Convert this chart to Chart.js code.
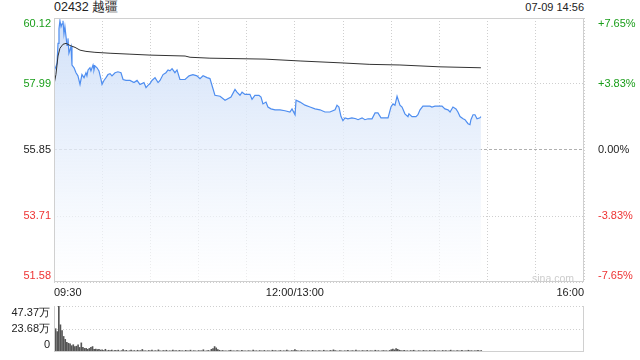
<!DOCTYPE html>
<html lang="zh">
<head>
    <meta charset="UTF-8">
    <title>02432 越疆 分时</title>
    <script src="https://cdn.jsdelivr.net/npm/chart.js"></script>
    <style>
        body {
            margin: 0;
            width: 640px;
            height: 360px;
            background: #fff;
            font-family: Arial, "Liberation Sans", sans-serif;
            position: relative;
            overflow: hidden;
        }
        #priceBox { position: absolute; left: 0; top: 0; }
        #volBox { position: absolute; left: 0; top: 288px; }
        .title { position: absolute; left: 54px; top: 0; font-size: 12.5px; line-height: 15px; color: #222; }
        .stamp { position: absolute; right: 56px; top: 0; font-size: 11px; line-height: 15px; color: #222; }
        .mark { position: absolute; left: 532px; top: 272px; font-size: 10.5px; color: #ccc; }
    </style>
</head>
<body>
    <div class="title">02432 越疆</div>
    <div class="stamp">07-09 14:56</div>
    <canvas id="priceBox" width="640" height="300"></canvas>
    <canvas id="volBox" width="640" height="82"></canvas>
    <div class="mark">sina.com</div>

    <script>
        // minutes since 09:30 (lunch 12:00-13:00 removed, 330 min in a day)
        const minutes = [0, 1.2, 1.9, 2.5, 3.1, 3.7, 4.4, 5.0, 5.6, 6.2, 6.8, 8.1, 8.7, 9.3, 10.6, 11.2, 12.5, 13.7, 14.9, 16.2,
            17.4, 18.7, 19.9, 20.5, 21.2, 22.4, 23.0, 24.3, 24.9, 25.5, 26.8, 28.0, 29.3, 29.9, 31.1, 32.4, 33.6, 34.9, 36.1, 38.0,
            39.8, 41.7, 43.0, 44.8, 47.3, 49.8, 51.7, 53.5, 56.0, 57.3, 58.5, 59.8, 61.0, 62.9, 64.8, 66.0, 67.9, 69.7, 71.0, 72.2,
            73.5, 75.3, 76.6, 78.4, 81.6, 84.1, 86.5, 89.0, 90.9, 92.8, 95.3, 97.1, 100.2, 103.4, 106.5, 110.2, 112.7, 113.9, 115.8, 117.1,
            118.9, 122.0, 123.3, 125.1, 127.6, 128.9, 130.1, 132.0, 133.2, 135.1, 137.6, 140.7, 143.8, 146.9, 148.2, 150.1, 150.7, 153.2, 156.3, 159.4,
            162.5, 165.6, 168.7, 171.8, 175.0, 176.2, 177.4, 178.7, 179.9, 181.2, 183.0, 185.5, 188.0, 189.3, 191.8, 193.6, 195.5, 198.0, 199.9, 201.7,
            203.6, 208.0, 209.8, 211.1, 212.3, 213.6, 215.4, 216.7, 218.5, 220.4, 221.0, 222.9, 225.4, 226.6, 227.9, 229.7, 234.1, 235.3, 237.2, 241.6,
            243.4, 245.3, 246.6, 248.4, 250.3, 251.5, 252.8, 254.7, 255.9, 257.8, 259.0, 259.6, 260.9, 262.1, 263.4, 265.2, 265.8];
        const prices = [58.41, 58.54, 58.67, 59.30, 59.77, 60.03, 59.84, 59.93, 60.03, 59.61, 59.84, 59.23, 59.46, 58.98, 59.20, 58.60, 58.51, 58.35, 58.25, 57.97,
            58.29, 58.19, 58.35, 58.25, 58.44, 58.51, 58.41, 58.60, 58.44, 58.57, 58.51, 58.41, 58.13, 57.97, 58.10, 58.19, 58.29, 58.32, 58.25, 58.35,
            58.38, 58.35, 58.13, 58.10, 58.10, 58.03, 58.10, 57.97, 58.03, 57.87, 57.94, 58.00, 58.10, 58.19, 58.03, 58.10, 58.29, 58.35, 58.44, 58.41,
            58.48, 58.35, 58.44, 58.13, 58.13, 58.25, 58.29, 58.25, 58.16, 58.25, 58.19, 58.16, 57.62, 57.59, 57.46, 57.56, 57.81, 57.72, 57.62, 57.72,
            57.65, 57.65, 57.49, 57.62, 57.62, 57.56, 57.34, 57.40, 57.24, 57.18, 57.15, 57.15, 57.12, 57.08, 57.18, 56.99, 57.46, 57.40, 57.30, 57.24,
            57.18, 57.15, 57.08, 57.08, 57.15, 57.30, 57.24, 56.93, 56.80, 56.89, 56.86, 56.89, 56.86, 56.83, 56.89, 56.83, 56.86, 56.86, 57.05, 57.05,
            56.89, 56.89, 57.24, 57.34, 57.30, 57.59, 57.30, 57.24, 57.02, 56.93, 57.02, 56.93, 56.93, 56.99, 57.15, 57.27, 57.27, 57.24, 57.27, 57.27,
            57.18, 57.15, 57.08, 57.24, 57.18, 57.08, 56.93, 56.86, 56.83, 56.70, 56.67, 56.83, 56.99, 56.99, 56.86, 56.89, 56.93];

        const avgMinutes = [0, 1.2, 2.5, 3.7, 5.6, 7.5, 10.0, 13.1, 16.2, 19.9, 25.5, 34.9, 47.3, 59.8, 81.6, 84.7, 97.1, 131.4, 153.2, 178.1, 196.7, 215.4, 240.3, 265.8];
        const avgPrices = [57.97, 58.29, 58.89, 59.14, 59.27, 59.30, 59.23, 59.17, 59.08, 59.04, 59.01, 58.98, 58.95, 58.92, 58.89, 58.85, 58.82, 58.79, 58.73, 58.67, 58.62, 58.60, 58.54, 58.51];

        // volume per minute, unit 万
        const volumes = [16, 24, 21, 47.37, 28, 22, 16, 13, 10, 9, 8.5, 6.5, 7.5, 5.6, 6, 7.5, 4.7, 9.4, 4.7, 3.7,
            3.7, 2.8, 3.7, 4.7, 5.6, 2.8, 3, 2.5, 2.8, 2,
            2.2, 1.5, 2.8, 1.2, 1.8, 1.4, 2.0, 1.1, 1.6, 1.3,
            1.9, 1.0, 1.4, 2.4, 1.2, 1.7, 1.0, 1.3, 2.1, 1.1,
            1.5, 1.0, 1.8, 1.2, 1.4, 2.6, 1.1, 1.3, 1.0, 1.6,
            1.2, 1.9, 1.0, 1.4, 1.1, 2.2, 1.3, 1.0, 1.5, 1.2,
            1.8, 1.0, 1.3, 1.1, 2.0, 1.2, 1.4, 1.0, 1.6, 1.1,
            1.3, 1.0, 1.7, 1.2, 1.1, 1.9, 1.0, 1.4, 1.2, 1.0,
            1.5, 1.1, 1.3, 2.3, 1.0, 1.2, 1.6, 1.1, 2.8, 3.4,
            5.6, 4.2, 2.5, 1.8, 1.3, 1.6, 1.1, 1.2, 1.0, 1.4,
            1.8, 1.1, 1.3, 1.0, 1.5, 1.2, 1.0, 1.7, 1.1, 1.3,
            1.0, 1.4, 1.2, 1.0, 1.9, 1.1, 1.3, 1.0, 1.5, 1.2,
            1.1, 1.6, 1.0, 1.3, 1.2, 1.0, 1.8, 1.1, 1.4, 1.0,
            1.2, 1.6, 1.0, 1.3, 1.1, 2.0, 1.2, 1.0, 1.5, 1.3,
            2.4, 1.5, 1.2, 1.0, 1.6, 1.1, 1.3, 1.0, 1.4, 1.2,
            1.0, 1.7, 1.1, 1.3, 1.0, 1.5, 1.2, 1.0, 1.8, 1.1,
            1.3, 1.0, 1.6, 1.2, 2.2, 1.4, 1.1, 1.0, 1.5, 1.2,
            1.0, 1.3, 1.1, 1.7, 1.0, 1.2, 1.4, 1.0, 1.9, 1.1,
            1.3, 1.0, 1.5, 1.2, 1.1, 1.6, 1.0, 1.3, 1.2, 1.0,
            1.8, 1.1, 1.4, 1.0, 1.2, 1.5, 1.1, 1.3, 1.0, 1.6,
            2.4, 3.1, 2.2, 3.6, 2.8, 1.9, 1.4, 1.2, 1.6, 1.1,
            1.3, 1.0, 1.5, 1.2, 1.8, 1.1, 1.0, 1.4, 1.2, 1.0,
            1.6, 1.1, 1.3, 1.0, 1.5, 1.2, 1.1, 1.7, 1.0, 1.3,
            1.2, 1.0, 1.6, 1.1, 1.4, 1.0, 1.3, 1.9, 1.1, 1.2,
            1.0, 1.5, 1.2, 1.1, 1.6, 1.0, 1.3, 1.2, 1.8, 1.1,
            1.4, 1.0, 1.3, 1.2, 1.6, 1.1, 1.5];

        const prevClose = 55.85;
        const priceTicks = [51.58, 53.71, 55.85, 57.99, 60.12];
        const pctTicks = [-7.65, -3.83, 0, 3.83, 7.65];
        const timeTicks = [0, 30, 60, 90, 120, 150, 180, 210, 240, 270, 300, 330];
        const timeLabels = { 0: '09:30', 150: '12:00/13:00', 330: '16:00' };
        const volTicks = [0, 23.68, 47.37];

        const UP = '#1a9e1a', DOWN = '#ee3333', FLAT = '#222';
        const tickFont = { family: 'Arial, "Liberation Sans", sans-serif', size: 11 };

        // push first label down and last label up so they stay inside the frame
        function edgeLabel(text, i, n) {
            if (i === n - 1) return ['', text];
            if (i === 0) return [text, ''];
            return text;
        }
        // line height of the edge labels sets how far they are pushed
        function edgeFont(n, lh) {
            return (c) => ({ ...tickFont, lineHeight: (c.index === 0 || c.index === n - 1) ? lh : 1.2 });
        }

        const frame = {
            id: 'frame',
            afterDatasetsDraw(chart, args, opts) {
                const { ctx, chartArea: a } = chart;
                ctx.save();
                ctx.strokeStyle = '#d0d0d0';
                ctx.lineWidth = 1;
                ctx.beginPath();
                if (opts.top) { ctx.moveTo(a.left, a.top + 0.5); ctx.lineTo(a.right, a.top + 0.5); }
                ctx.moveTo(a.left + 0.5, a.top); ctx.lineTo(a.left + 0.5, a.bottom);
                ctx.moveTo(a.right - 0.5, a.top); ctx.lineTo(a.right - 0.5, a.bottom);
                ctx.moveTo(a.left, a.bottom - 0.5); ctx.lineTo(a.right, a.bottom - 0.5);
                ctx.stroke();
                ctx.restore();
            }
        };

        new Chart(document.getElementById('priceBox'), {
            type: 'line',
            data: {
                datasets: [{
                    data: avgMinutes.map((m, i) => ({ x: m, y: avgPrices[i] })),
                    borderColor: '#333',
                    borderWidth: 1,
                    pointRadius: 0,
                    fill: false
                }, {
                    data: minutes.map((m, i) => ({ x: m, y: prices[i] })),
                    borderColor: '#4f8ef0',
                    borderWidth: 1.2,
                    pointRadius: 0,
                    fill: 'start',
                    backgroundColor: (c) => {
                        const area = c.chart.chartArea;
                        if (!area) return 'rgba(0,0,0,0)';
                        const g = c.chart.ctx.createLinearGradient(0, area.top, 0, area.bottom);
                        g.addColorStop(0, 'rgba(205,222,248,0.95)');
                        g.addColorStop(1, 'rgba(255,255,255,0.6)');
                        return g;
                    }
                }]
            },
            options: {
                responsive: false,
                animation: false,
                layout: { padding: { top: 14 } },
                plugins: { legend: { display: false }, tooltip: { enabled: false }, frame: { top: true } },
                scales: {
                    x: {
                        type: 'linear',
                        min: 0,
                        max: 330,
                        afterBuildTicks: (s) => { s.ticks = timeTicks.map(v => ({ value: v })); },
                        afterFit: (s) => { s.height = 16; },
                        grid: { color: '#cfcfcf', drawTicks: false },
                        border: { display: false, dash: [1, 2] },
                        ticks: {
                            autoSkip: false,
                            maxRotation: 0,
                            align: 'inner',
                            padding: 4,
                            color: FLAT,
                            font: tickFont,
                            callback: (v) => timeLabels[v] ?? ''
                        }
                    },
                    y: {
                        position: 'left',
                        min: priceTicks[0],
                        max: priceTicks[priceTicks.length - 1],
                        afterBuildTicks: (s) => { s.ticks = priceTicks.map(v => ({ value: v })); },
                        afterFit: (s) => { s.width = 54; },
                        grid: {
                            drawTicks: false,
                            color: (c) => c.tick && c.tick.value === prevClose ? '#b0b0b0' : '#cfcfcf'
                        },
                        border: {
                            display: false,
                            dash: (c) => c.tick && c.tick.value === prevClose ? [3, 2] : [1, 2]
                        },
                        ticks: {
                            autoSkip: false,
                            padding: 3,
                            font: edgeFont(priceTicks.length, '12px'),
                            color: (c) => c.tick.value > prevClose ? UP : (c.tick.value < prevClose ? DOWN : FLAT),
                            callback: (v, i, t) => edgeLabel(v.toFixed(2), i, t.length)
                        }
                    },
                    pct: {
                        position: 'right',
                        min: pctTicks[0],
                        max: pctTicks[pctTicks.length - 1],
                        afterBuildTicks: (s) => { s.ticks = pctTicks.map(v => ({ value: v })); },
                        afterFit: (s) => { s.width = 56; },
                        grid: { display: false },
                        border: { display: false },
                        ticks: {
                            autoSkip: false,
                            padding: 6,
                            font: edgeFont(pctTicks.length, '12px'),
                            color: (c) => c.tick.value > 0 ? UP : (c.tick.value < 0 ? DOWN : FLAT),
                            callback: (v, i, t) => edgeLabel((v > 0 ? '+' : '') + v.toFixed(2) + '%', i, t.length)
                        }
                    }
                },
                elements: { line: { tension: 0 } }
            },
            plugins: [frame]
        });

        new Chart(document.getElementById('volBox'), {
            type: 'bar',
            data: {
                datasets: [{
                    data: volumes.map((v, i) => ({ x: i, y: v })),
                    backgroundColor: '#555',
                    barThickness: 1
                }]
            },
            options: {
                responsive: false,
                animation: false,
                layout: { padding: { top: 16, bottom: 15, right: 56 } },
                plugins: { legend: { display: false }, tooltip: { enabled: false }, frame: { top: false } },
                scales: {
                    x: { type: 'linear', min: 0, max: 330, offset: false, grid: { offset: false }, display: false },
                    y: {
                        min: 0,
                        max: volTicks[volTicks.length - 1],
                        afterBuildTicks: (s) => { s.ticks = volTicks.map(v => ({ value: v })); },
                        afterFit: (s) => { s.width = 54; },
                        grid: { drawTicks: false, color: (c) => c.tick && c.tick.value === 0 ? 'rgba(0,0,0,0)' : '#cfcfcf' },
                        border: { display: false, dash: [1, 2] },
                        ticks: {
                            autoSkip: false,
                            padding: 4,
                            font: edgeFont(volTicks.length, '14px'),
                            color: FLAT,
                            callback: (v, i, t) => edgeLabel(v === 0 ? '0' : v.toFixed(2) + '万', i, t.length)
                        }
                    }
                }
            },
            plugins: [frame]
        });
    </script>
</body>
</html>
